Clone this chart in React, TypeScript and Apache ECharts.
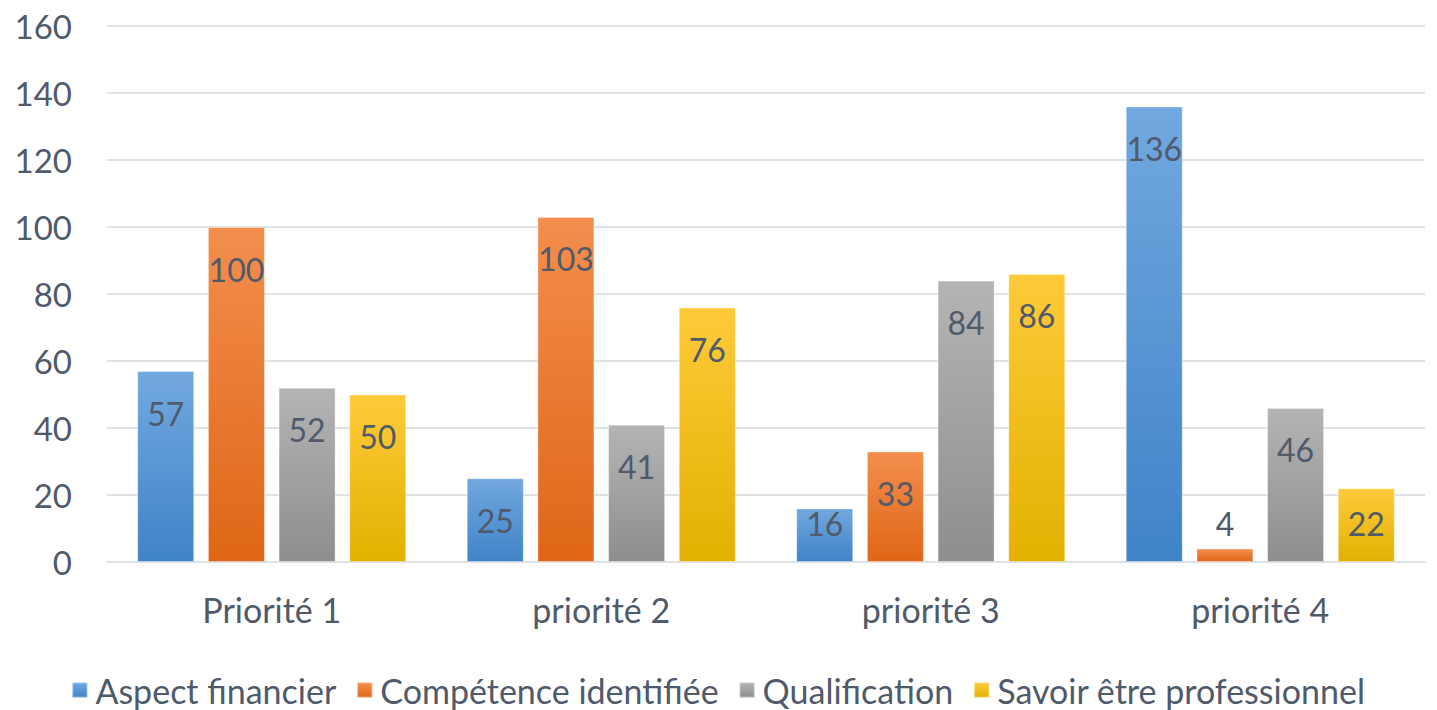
import React, { useEffect, useRef } from "react";
import * as echarts from "echarts";

const categories = ["Priorité 1", "priorité 2", "priorité 3", "priorité 4"];
const seriesNames = ["Aspect financier", "Compétence identifiée", "Qualification", "Savoir être professionnel"];
const aspectFinancier = [57, 25, 16, 136];
const competenceIdentifiee = [100, 103, 33, 4];
const qualification = [52, 41, 84, 46];
const savoirEtre = [50, 76, 86, 22];
const yTicks = { min: 0, max: 160, interval: 20 };

const palettes = [
  ["#72a8df", "#3f83c8"],
  ["#f38e4e", "#df6616"],
  ["#b4b4b4", "#8e8e8e"],
  ["#ffca3a", "#e2b100"],
];

const TEXT = "#4f5a6b";
const FONT = "Lato, 'Open Sans', sans-serif";

export default function App() {
  const ref = useRef<HTMLDivElement>(null);
  useEffect(() => {
    if (!ref.current) return;
    const chart = echarts.init(ref.current, null, { renderer: "svg" });
    const allData = [aspectFinancier, competenceIdentifiee, qualification, savoirEtre];
    const series = allData.map((vals, i) => ({
      name: seriesNames[i],
      type: "bar",
      barWidth: 57,
      barGap: "24%",
      itemStyle: {
        color: new echarts.graphic.LinearGradient(0, 0, 0, 1, [
          { offset: 0, color: palettes[i][0] },
          { offset: 1, color: palettes[i][1] },
        ]),
        borderColor: "rgba(255,255,255,0.35)",
        borderWidth: 1,
      },
      data: vals.map((v) => ({
        value: v,
        label:
          v < 24
            ? { position: "insideBottom", distance: 23 }
            : { position: "insideTop", distance: 26 },
      })),
      label: {
        show: true,
        color: TEXT,
        fontSize: 32,
        fontFamily: FONT,
      },
    }));
    chart.setOption({
      animation: false,
      textStyle: { fontFamily: FONT },
      grid: { left: 107, right: 12, top: 26, bottom: 148 },
      legend: {
        top: 668,
        left: "center",
        itemWidth: 15,
        itemHeight: 15,
        itemGap: 20,
        icon: "rect",
        textStyle: { color: TEXT, fontSize: 34, fontFamily: FONT, padding: [0, 0, 0, 3] },
        data: seriesNames,
      },
      xAxis: {
        type: "category",
        data: categories,
        axisLine: { show: true, lineStyle: { color: "#dfe3e8", width: 2 } },
        axisTick: { show: false },
        axisLabel: { color: TEXT, fontSize: 34, fontFamily: FONT, margin: 30 },
      },
      yAxis: {
        type: "value",
        min: yTicks.min,
        max: yTicks.max,
        interval: yTicks.interval,
        axisLine: { show: false },
        axisTick: { show: false },
        splitLine: { lineStyle: { color: "#dfe3e8", width: 2 } },
        axisLabel: { color: TEXT, fontSize: 33, fontFamily: FONT, margin: 35 },
      },
      series,
    });
    return () => chart.dispose();
  }, []);
  return (
    <div
      ref={ref}
      style={{ position: "absolute", left: 0, top: 0, width: 1437, height: 710 }}
    />
  );
}
